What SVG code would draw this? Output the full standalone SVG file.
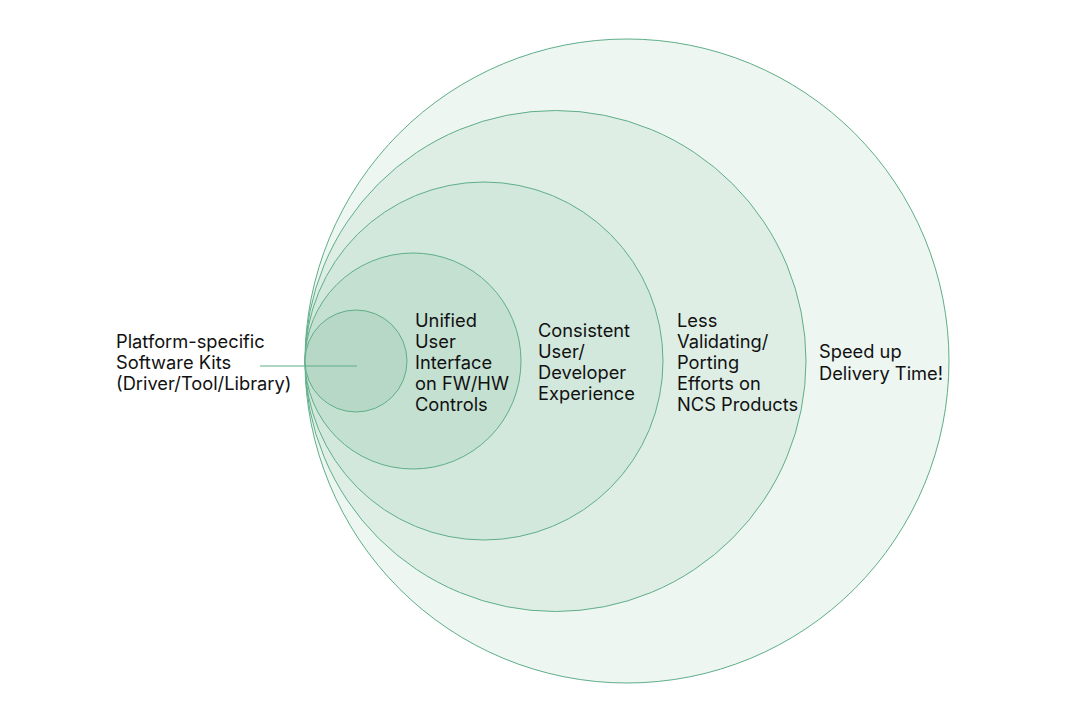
<svg xmlns="http://www.w3.org/2000/svg" width="1065" height="723" viewBox="0 0 1065 723">
<style>
.c{stroke:#5fae88;stroke-width:1}
text{font-family:Inter,"Liberation Sans",sans-serif;font-size:18.3px;fill:#111}
</style>
<rect width="1065" height="723" fill="#fff"/>
<g id="n1"><circle class="c" cx="627" cy="361" r="322" fill="#edf6f1"/><text x="819" y="358">Speed up</text><text x="819" y="380">Delivery Time!</text></g>
<g id="n2"><circle class="c" cx="555.5" cy="361" r="250.5" fill="#deeee5"/><text x="677" y="327">Less</text><text x="677" y="348">Validating/</text><text x="677" y="369">Porting</text><text x="677" y="390">Efforts on</text><text x="677" y="411">NCS Products</text></g>
<g id="n3"><circle class="c" cx="484" cy="361" r="179" fill="#d2e8dc"/><text x="538" y="337">Consistent</text><text x="538" y="358">User/</text><text x="538" y="379">Developer</text><text x="538" y="400">Experience</text></g>
<g id="n4"><circle class="c" cx="413" cy="361" r="108" fill="#c4e0d0"/><text x="415" y="327">Unified</text><text x="415" y="348">User</text><text x="415" y="369">Interface</text><text x="415" y="390">on FW/HW</text><text x="415" y="411">Controls</text></g>
<g id="n5"><circle class="c" cx="356" cy="361" r="51" fill="#b7d8c6"/></g>
<g id="connectors"><line x1="260" y1="366" x2="357" y2="366" stroke="#5fae88" stroke-width="1.2"/></g>
<g id="label"><text x="116" y="348">Platform-specific</text><text x="116" y="369">Software Kits</text><text x="116" y="390">(Driver/Tool/Library)</text></g>
</svg>
